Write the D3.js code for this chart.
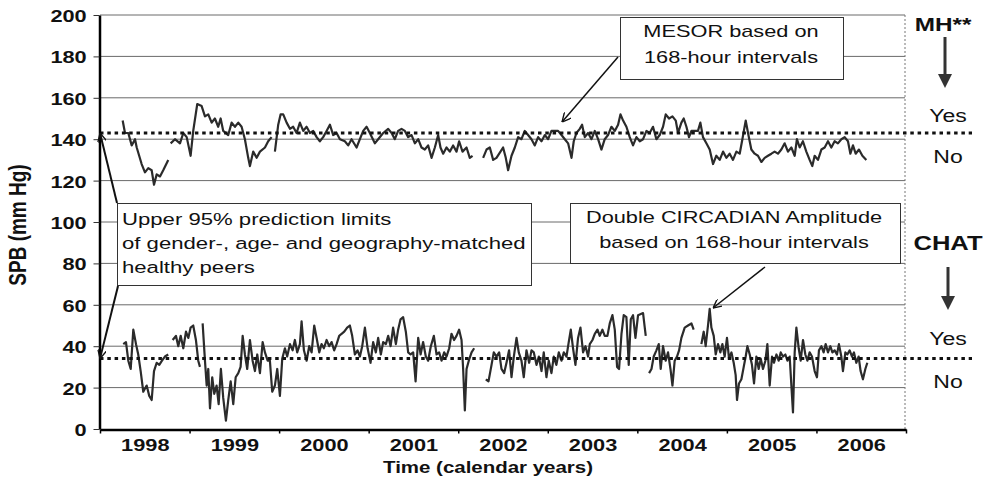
<!DOCTYPE html>
<html>
<head>
<meta charset="utf-8">
<script src="https://cdn.jsdelivr.net/npm/d3@7"></script>
<style>
body{margin:0;background:#fff;}
svg{display:block;font-family:"Liberation Sans",Arial,sans-serif;}
</style>
</head>
<body>
<svg id="chart" width="987" height="483"></svg>
<script>
// values (t = years since 1 Jan 1998, null = gap)
var years=[1998,1999,2000,2001,2002,2003,2004,2005,2006];
var yTickValues=[0,20,40,60,80,100,120,140,160,180,200];
var mesorLimit=143, chatLimit=34;

var mesorT=[0.253,0.279,0.316,0.354,0.391,0.410,0.465,0.502,0.539,0.577,0.603,0.633,0.670,0.706,0.762,0.775,
 0.789,0.837,0.893,0.930,0.968,1.012,1.041,1.086,1.135,1.172,1.209,1.247,1.283,1.320,1.347,1.376,1.432,1.470,1.507,1.544,1.581,1.618,1.655,1.674,1.711,1.749,1.786,1.842,1.878,1.916,1.935,
 1.953,1.990,2.017,2.046,2.084,2.121,2.157,2.195,2.232,2.269,2.307,2.344,2.381,2.419,2.455,2.492,2.530,2.567,2.604,2.642,2.679,2.734,2.771,2.809,2.865,2.902,2.939,2.977,3.013,3.069,3.106,3.162,3.218,3.256,3.292,3.329,3.367,3.404,3.441,3.479,3.516,3.553,3.590,3.627,3.664,3.702,3.739,3.776,3.802,3.832,3.869,3.906,3.943,3.981,4.010,4.048,4.093,4.129,4.160,4.220,
 4.278,4.316,4.353,4.390,4.427,4.472,4.501,4.531,4.557,4.595,4.632,4.669,4.706,4.743,4.780,4.818,4.855,4.892,4.930,4.967,5.004,5.041,5.078,5.115,5.153,5.190,5.227,5.265,5.290,5.320,5.357,5.383,5.413,5.450,5.488,5.525,5.562,5.599,5.636,5.673,5.711,5.748,5.785,5.812,5.841,5.878,5.915,5.952,5.990,
 6.027,6.064,6.102,6.138,6.175,6.213,6.250,6.287,6.317,6.354,6.392,6.429,6.454,6.492,6.518,6.548,6.577,6.604,6.641,6.677,6.704,6.733,6.771,6.808,6.845,6.882,6.920,6.957,6.994,7.031,7.068,7.106,7.143,7.173,7.210,7.236,7.273,7.310,7.347,7.385,7.422,7.459,7.497,7.533,7.570,7.608,7.645,7.682,7.720,7.757,7.782,7.813,7.849,7.887,7.924,7.954,7.980,8.017,8.055,8.092,8.129,8.166,8.203,8.240,8.278,8.315,8.352,8.379,8.408,8.438,8.475,8.513,8.557];
var mesorV=[149,143,143,137,140,136,128,124,126,125,118,123,122,125,130,null,
 138,140,138,143,141,132,144,157,156,151,152,148,150,146,150,144,142,148,146,148,146,140,131,127,134,131,134,136,139,141,null,
 134,147,152,152,148,145,146,143,148,144,146,143,144,141,139,141,144,147,142,143,140,139,137,140,136,140,144,146,143,138,140,143,145,143,140,144,145,144,141,142,138,140,136,135,137,131,136,142,136,133,136,134,137,134,139,134,136,131,132,null,
 131,135,136,130,131,134,136,131,125,132,136,141,140,144,142,140,137,141,139,142,140,144,144,144,142,140,138,131,139,143,145,147,141,143,140,144,140,135,140,142,146,144,147,152,149,146,141,137,141,
 139,140,144,143,146,140,142,146,152,150,151,149,143,148,150,146,141,144,144,144,148,141,138,135,128,132,130,134,131,133,130,134,133,140,149,143,135,133,132,129,131,132,133,134,133,135,138,134,136,132,140,136,139,134,130,127,132,130,135,136,139,136,139,138,140,141,139,133,137,133,135,132,130];

var chatT=[0.260,0.290,0.316,0.343,0.372,0.402,0.427,0.454,0.483,0.521,0.550,0.577,0.603,0.633,0.662,0.692,0.725,0.762,0.785,
 0.811,0.848,0.874,0.901,0.930,0.960,0.986,1.012,1.041,1.071,1.097,1.116,1.130,
 1.146,1.172,1.191,1.209,1.228,1.253,1.276,1.302,1.325,1.350,1.376,1.406,1.432,1.459,1.488,1.515,1.544,1.570,1.593,1.618,1.644,1.674,1.704,1.730,1.756,1.786,1.816,1.842,1.872,1.897,1.923,
 1.953,1.979,2.009,2.035,2.065,2.090,2.121,2.151,2.176,2.202,2.232,2.251,2.277,2.307,2.336,2.363,2.392,2.419,2.448,2.474,2.500,2.530,2.559,2.586,2.615,2.642,2.671,2.698,2.727,2.760,2.790,2.816,2.846,2.876,2.902,2.928,2.958,2.988,3.021,3.050,3.080,3.106,3.136,3.162,3.192,3.218,3.245,3.273,3.304,3.329,3.356,3.385,3.415,3.441,3.468,3.497,3.524,3.553,3.580,3.608,3.638,3.664,3.694,3.728,3.758,3.787,3.814,3.843,3.869,3.899,3.925,3.954,3.981,4.010,4.037,4.055,4.074,4.093,4.118,4.149,4.178,4.240,
 4.308,4.338,4.372,4.397,4.427,4.457,4.483,4.513,4.539,4.568,4.595,4.621,4.651,4.676,4.706,4.732,4.762,4.792,4.818,4.844,4.874,4.900,4.930,4.955,4.985,5.011,5.041,5.067,5.096,5.123,5.153,5.179,5.209,5.234,5.257,5.282,5.309,5.338,5.365,5.394,5.421,5.450,
 5.469,5.499,5.525,5.555,5.580,5.610,5.636,5.666,5.692,5.722,5.748,5.774,5.796,5.823,5.848,5.878,5.904,5.927,5.952,5.979,6.008,6.064,6.083,6.094,6.112,
 6.131,6.158,6.183,6.213,6.239,6.261,6.287,6.317,6.343,6.370,6.392,6.417,6.443,6.466,6.492,6.529,6.566,6.604,6.629,6.670,
 6.715,6.741,6.763,6.789,6.808,6.827,6.853,6.875,6.901,6.927,6.950,6.975,7.001,7.024,7.051,7.076,7.098,7.113,7.135,7.162,7.188,7.210,7.229,7.255,7.280,7.303,7.329,7.355,7.378,7.403,7.430,7.452,7.478,7.504,7.526,7.553,7.578,7.601,7.626,7.653,7.676,7.701,7.720,7.738,7.757,7.776,7.802,7.824,7.850,7.876,7.899,7.924,7.950,7.980,8.006,8.028,8.055,8.080,8.103,8.129,8.155,8.178,8.203,8.229,8.251,8.278,8.296,8.323,8.345,8.371,8.397,8.419,8.445,8.471,8.493,8.519,8.546,8.568];
var chatV=[41,42,33,29,48,41,36,28,18,21,16,14,28,32,31,33,35,36,null,
 43,45,40,45,39,47,44,49,50,43,33,30,null,
 51,33,21,29,10,25,17,21,12,29,15,4,14,23,12,25,27,30,45,36,29,43,33,28,36,27,42,37,33,33,18,
 21,29,16,34,39,35,41,38,43,37,41,52,38,33,40,37,50,44,37,41,39,43,40,42,38,41,45,46,47,49,50,45,36,38,35,40,49,39,32,42,37,44,36,42,41,45,40,49,41,48,53,54,47,37,36,37,23,44,36,42,35,33,40,45,36,37,33,37,35,39,46,43,45,48,43,29,9,29,33,37,39,null,
 24,23,31,37,35,37,29,27,32,38,25,35,44,37,33,25,38,32,38,37,31,35,28,37,25,33,27,35,31,37,33,37,35,42,48,39,31,44,49,37,40,35,
 41,43,46,48,45,48,45,45,51,55,48,30,29,46,55,54,31,53,55,44,55,56,49,45,null,
 27,29,35,38,41,29,40,33,37,29,21,33,35,38,44,49,50,51,48,null,
 41,47,40,50,58,49,45,36,41,37,41,35,44,34,37,32,26,14,22,24,30,35,40,36,31,22,35,29,34,29,33,41,21,35,32,36,33,37,35,36,33,35,21,8,37,49,39,33,43,36,33,37,35,28,25,38,40,37,41,37,40,37,38,36,41,35,28,37,36,38,35,37,32,35,28,24,29,32];

var mesorBox=["MESOR based on","168-hour intervals"];
var peersBox=["Upper 95% prediction limits","of gender-, age- and geography-matched","healthy peers"];
var chatBox=["Double CIRCADIAN Amplitude","based on 168-hour intervals"];

var SX=1.28; // the scan is stretched sideways
var svg=d3.select("#chart");
var x=d3.scaleLinear().domain([1998,2007]).range([100,906]);
var y=d3.scaleLinear().domain([0,200]).range([429,15]);

svg.append("defs").append("marker").attr("id","arr").attr("viewBox","0 0 10 10")
 .attr("refX",10).attr("refY",5).attr("markerWidth",9).attr("markerHeight",9)
 .attr("markerUnits","userSpaceOnUse").attr("orient","auto")
 .append("path").attr("d","M0,0L10,5L0,10").attr("fill","none").attr("stroke","#111").attr("stroke-width",1.5);

function txt(px,py,s,size,weight,anchor){
 return svg.append("text").attr("transform","translate("+px+","+py+") scale("+SX+",1)")
  .attr("font-size",size).attr("font-weight",weight||"normal").attr("text-anchor",anchor||"start")
  .attr("fill","#111").text(s);
}

// gridlines
svg.append("g").selectAll("line").data(yTickValues.slice(1)).join("line")
 .attr("x1",100).attr("x2",905).attr("y1",function(d){return y(d);}).attr("y2",function(d){return y(d);})
 .attr("stroke","#6a6a6a").attr("stroke-width",1);
svg.append("line").attr("x1",905).attr("x2",905).attr("y1",y(200)).attr("y2",y(0))
 .attr("stroke","#777").attr("stroke-dasharray","2,2");

// series
function build(T,V){return d3.zip(T,V).map(function(p){return {t:p[0],v:p[1]};});}
var line=d3.line().defined(function(d){return d.v!=null;})
 .x(function(d){return x(1998+d.t);}).y(function(d){return y(d.v);});
[build(mesorT,mesorV),build(chatT,chatV)].forEach(function(data){
 svg.append("path").datum(data).attr("d",line).attr("fill","none")
  .attr("stroke","#2b2b2b").attr("stroke-width",2.2).attr("stroke-linejoin","round");
});

// thresholds
[mesorLimit,chatLimit].forEach(function(v){
 svg.append("line").attr("x1",100).attr("x2",972).attr("y1",y(v)).attr("y2",y(v))
  .attr("stroke","#111").attr("stroke-width",3).attr("stroke-dasharray","3.5,3.8");
});

// axes
var ya=svg.append("g").attr("transform","translate(99.5,0)")
 .call(d3.axisLeft(y).tickValues(yTickValues).tickSize(6).tickSizeOuter(0).tickPadding(4));
ya.select(".domain").attr("stroke","#000").attr("stroke-width",2.5);
ya.selectAll(".tick line").attr("stroke","#333");
ya.selectAll("text").attr("font-size",17).attr("font-weight","bold").attr("fill","#111")
 .attr("font-family","Liberation Sans, Arial, sans-serif").attr("dy","0.38em").attr("transform","scale("+SX+",1)");

var xa=svg.append("g").attr("transform","translate(0,429.5)")
 .call(d3.axisBottom(x).tickValues(years.concat([2007])).tickSize(4).tickSizeOuter(0).tickFormat(""));
xa.select(".domain").attr("stroke","#000").attr("stroke-width",2.5);
xa.selectAll(".tick line").attr("stroke","#000").attr("stroke-width",1.5);
var xl=svg.append("g").attr("transform","translate(0,429.5)")
 .call(d3.axisBottom(x).tickValues(years.map(function(d){return d+0.5;})).tickSize(0).tickPadding(9)
  .tickFormat(function(d){return String(Math.floor(d));}));
xl.select(".domain").remove();
xl.selectAll("text").attr("font-size",17).attr("font-weight","bold").attr("fill","#111")
 .attr("font-family","Liberation Sans, Arial, sans-serif").attr("transform","scale("+SX+",1)")
 .attr("x",0);

// axis titles
txt(488,473,"Time (calendar years)",16,"bold","middle");
svg.append("text").attr("transform","translate(26,225) scale("+SX+",1) rotate(-90)")
 .attr("font-size",19).attr("font-weight","bold").attr("text-anchor","middle").attr("fill","#111")
 .text("SPB (mm Hg)");

// annotation boxes
function box(x0,y0,x1,y1){
 svg.append("rect").attr("x",x0+0.5).attr("y",y0+0.5).attr("width",x1-x0).attr("height",y1-y0)
  .attr("fill","#fff").attr("stroke","#333").attr("stroke-width",1);
}
box(620,17,843,79);
mesorBox.forEach(function(s,i){txt(731,37+i*26,s,17,"normal","middle");});
box(117,203,531,285);
peersBox.forEach(function(s,i){txt(122,225+i*24,s,17.3,"normal","start");});
box(570,203,900,263);
chatBox.forEach(function(s,i){txt(734,223+i*25,s,17,"normal","middle");});

function arrow(a,b,c,d,w){
 svg.append("line").attr("x1",a).attr("y1",b).attr("x2",c).attr("y2",d)
  .attr("stroke","#111").attr("stroke-width",w||1.5).attr("marker-end","url(#arr)");
}
arrow(618,57,562,122);
arrow(765,267,713,308);
arrow(117,203,100,y(mesorLimit),2);
arrow(118,286,100,y(chatLimit),2);

// right side legend
txt(943,31,"MH**",19,"bold","middle");
txt(948,122,"Yes",18,"normal","middle");
txt(948,163,"No",18,"normal","middle");
txt(948,250,"CHAT",20,"bold","middle");
txt(948,345,"Yes",18,"normal","middle");
txt(948,388,"No",18,"normal","middle");
function downArrow(cx,top,tip){
 svg.append("line").attr("x1",cx).attr("x2",cx).attr("y1",top).attr("y2",tip-12)
  .attr("stroke","#333").attr("stroke-width",3);
 svg.append("path").attr("d","M"+(cx-7)+","+(tip-14)+"L"+(cx+7)+","+(tip-14)+"L"+cx+","+tip+"Z")
  .attr("fill","#333");
}
downArrow(945,37,88);
downArrow(948,267,310);
</script>
</body>
</html>
